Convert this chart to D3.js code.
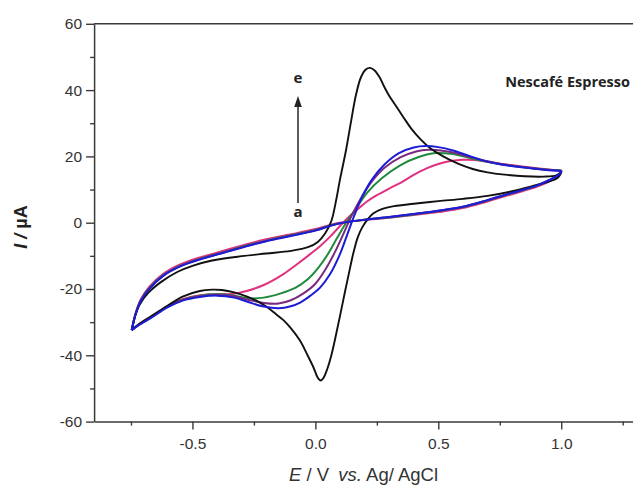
<!DOCTYPE html>
<html>
<head>
<meta charset="utf-8">
<script src="https://cdn.jsdelivr.net/npm/d3@7"></script>
<style>
  html, body { margin: 0; padding: 0; background: #fff; }
  svg { display: block; }
</style>
</head>
<body>
<svg id="chart" width="633" height="486"></svg>
<script>
// ---------------- DATA ----------------
const seriesLabels = ["a", "b", "c", "d", "e"];
const seriesColors = ["#e0307f", "#1f8a3b", "#7a2a7e", "#1c1cd6", "#111111"];
const xTickValues = [-0.5, 0.0, 0.5, 1.0];
const xMinorTicks = [-0.75, -0.25, 0.25, 0.75, 1.25];
const yTickValues = [-60, -40, -20, 0, 20, 40, 60];
const yMinorTicks = [-50, -30, -10, 10, 30, 50];
const annotation = "Nescafé Espresso";

// [E (V), I (µA)] — forward scan (ascending E)
const aForward = [[-0.747,-32.4],[-0.72,-30.7],[-0.67,-28.3],[-0.6,-25.1],[-0.54,-23.1],[-0.47,-21.9],[-0.4,-21.5],[-0.34,-21.5],[-0.28,-20.6],[-0.21,-18.8],[-0.13,-15.5],[-0.076,-12.6],[-0.02,-9.4],[0.02,-7.0],[0.06,-4.2],[0.1,-1.0],[0.14,2.0],[0.18,4.6],[0.21,6.4],[0.25,8.3],[0.3,10.3],[0.35,12.2],[0.4,14.4],[0.45,16.3],[0.5,17.7],[0.55,18.6],[0.6,19.0],[0.65,18.9],[0.7,18.4],[0.77,17.6],[0.85,16.9],[0.92,16.3],[0.97,15.9],[1.0,15.7]];
const bForward = [[-0.747,-32.4],[-0.72,-30.8],[-0.67,-28.4],[-0.6,-25.2],[-0.54,-23.2],[-0.47,-22.0],[-0.4,-21.6],[-0.33,-22.0],[-0.27,-22.8],[-0.21,-22.6],[-0.144,-21.4],[-0.08,-19.6],[-0.03,-17.0],[0.01,-13.8],[0.05,-9.6],[0.087,-4.8],[0.125,0.0],[0.17,4.8],[0.21,9.0],[0.27,13.4],[0.345,17.3],[0.42,19.8],[0.49,21.0],[0.55,20.8],[0.61,19.9],[0.67,18.8],[0.75,17.7],[0.83,16.9],[0.9,16.3],[0.96,15.9],[1.0,15.6]];
const cForward = [[-0.747,-32.4],[-0.72,-30.9],[-0.67,-28.6],[-0.6,-25.3],[-0.54,-23.3],[-0.47,-22.2],[-0.4,-21.8],[-0.33,-22.2],[-0.27,-23.3],[-0.21,-24.2],[-0.15,-24.4],[-0.1,-23.4],[-0.05,-21.4],[0.0,-18.4],[0.04,-14.2],[0.08,-8.8],[0.115,-3.2],[0.15,2.5],[0.19,8.0],[0.23,12.5],[0.28,16.5],[0.345,19.7],[0.41,21.5],[0.46,22.0],[0.51,21.8],[0.57,21.0],[0.63,19.8],[0.69,18.7],[0.76,17.6],[0.84,16.8],[0.91,16.2],[0.96,15.8],[1.0,15.5]];
const dForward = [[-0.747,-32.4],[-0.72,-31.0],[-0.67,-28.8],[-0.6,-25.5],[-0.54,-23.5],[-0.47,-22.4],[-0.4,-22.0],[-0.33,-22.6],[-0.27,-24.0],[-0.21,-25.3],[-0.15,-25.8],[-0.1,-25.2],[-0.06,-24.0],[-0.02,-22.0],[0.02,-19.5],[0.06,-15.5],[0.1,-9.5],[0.13,-3.5],[0.16,2.5],[0.19,7.8],[0.23,13.0],[0.28,17.5],[0.34,21.0],[0.4,22.7],[0.45,23.1],[0.5,22.8],[0.56,21.8],[0.62,20.3],[0.68,18.8],[0.75,17.6],[0.83,16.8],[0.9,16.2],[0.96,15.8],[1.0,15.4]];
const eForward = [[-0.747,-32.4],[-0.735,-28.6],[-0.715,-24.8],[-0.68,-21.2],[-0.63,-18.0],[-0.56,-14.8],[-0.5,-13.0],[-0.42,-11.4],[-0.3,-10.1],[-0.2,-9.3],[-0.1,-8.5],[-0.03,-7.4],[0.01,-5.8],[0.04,-3.2],[0.065,0.5],[0.085,7],[0.1,13],[0.125,22],[0.145,30.5],[0.165,38.5],[0.185,43.8],[0.205,46.2],[0.222,46.7],[0.24,46.0],[0.26,44.0],[0.28,41.0],[0.3,38.3],[0.33,35.0],[0.36,31.6],[0.39,28.4],[0.43,25.0],[0.47,22.3],[0.52,20.0],[0.58,17.8],[0.64,16.2],[0.7,15.2],[0.77,14.5],[0.85,14.0],[0.93,13.9],[0.98,14.3],[1.0,15.2]];

// reverse scan (descending E)
const aReverse = [[1.0,15.7],[0.985,14.0],[0.95,12.4],[0.9,10.8],[0.8,8.6],[0.7,6.4],[0.6,4.4],[0.5,3.2],[0.4,2.3],[0.3,1.5],[0.2,0.8],[0.12,0.2],[0.067,-0.5],[0.0,-1.9],[-0.1,-3.5],[-0.2,-5.0],[-0.28,-6.5],[-0.37,-8.4],[-0.47,-10.5],[-0.55,-12.6],[-0.62,-15.5],[-0.675,-19.3],[-0.71,-23.1],[-0.73,-27.0],[-0.747,-32.4]];
const bReverse = [[1.0,15.6],[0.985,14.2],[0.95,12.7],[0.9,11.1],[0.8,8.9],[0.7,6.7],[0.6,4.7],[0.5,3.5],[0.4,2.5],[0.3,1.6],[0.2,0.9],[0.12,0.1],[0.067,-0.7],[0.0,-2.2],[-0.1,-3.8],[-0.2,-5.4],[-0.28,-6.9],[-0.37,-8.8],[-0.47,-10.9],[-0.55,-13.0],[-0.62,-15.9],[-0.675,-19.7],[-0.71,-23.4],[-0.73,-27.2],[-0.747,-32.4]];
const cReverse = [[1.0,15.5],[0.985,14.2],[0.95,12.8],[0.9,11.2],[0.8,9.0],[0.7,6.8],[0.6,4.8],[0.5,3.6],[0.4,2.6],[0.3,1.7],[0.2,0.9],[0.12,0.1],[0.067,-0.8],[0.0,-2.3],[-0.1,-3.9],[-0.2,-5.5],[-0.28,-7.0],[-0.37,-8.9],[-0.47,-11.0],[-0.55,-13.1],[-0.62,-16.0],[-0.675,-19.8],[-0.71,-23.5],[-0.73,-27.3],[-0.747,-32.4]];
const dReverse = [[1.0,15.4],[0.985,14.2],[0.95,12.8],[0.9,11.2],[0.8,9.0],[0.7,6.8],[0.6,4.8],[0.5,3.6],[0.4,2.6],[0.3,1.7],[0.2,0.9],[0.12,0.1],[0.067,-0.8],[0.0,-2.4],[-0.1,-4.0],[-0.2,-5.6],[-0.28,-7.1],[-0.37,-9.0],[-0.47,-11.1],[-0.55,-13.2],[-0.62,-16.1],[-0.675,-19.9],[-0.71,-23.6],[-0.73,-27.3],[-0.747,-32.4]];
const eReverse = [[1.0,15.2],[0.985,13.5],[0.95,12.4],[0.9,11.4],[0.8,9.5],[0.7,8.1],[0.6,7.2],[0.5,6.5],[0.4,5.7],[0.32,5.0],[0.27,4.1],[0.235,2.8],[0.21,0.8],[0.19,-1.5],[0.172,-4.5],[0.155,-9],[0.14,-14],[0.12,-21],[0.1,-28.2],[0.082,-34.5],[0.065,-40],[0.048,-44.2],[0.033,-46.8],[0.022,-47.6],[0.01,-46.8],[-0.008,-43.6],[-0.035,-39.5],[-0.062,-35.6],[-0.1,-31.8],[-0.13,-29.4],[-0.16,-27.6],[-0.2,-25.3],[-0.24,-23.5],[-0.28,-22.2],[-0.33,-21.0],[-0.38,-20.3],[-0.42,-20.2],[-0.47,-20.6],[-0.54,-22.3],[-0.6,-25.0],[-0.67,-28.4],[-0.72,-30.8],[-0.747,-32.4]];

const forwards = [aForward, bForward, cForward, dForward, eForward];
const reverses = [aReverse, bReverse, cReverse, dReverse, eReverse];

// ---------------- CHART ----------------
const svg = d3.select("#chart");
const W = 633, H = 486;
const x = d3.scaleLinear().domain([-0.9, 1.3]).range([94.1, 635]);
const y = d3.scaleLinear().domain([-60, 60]).range([421.6, 23.8]);
const axisColor = "#3a3a3a";
const tickFont = "'Liberation Sans', Arial, sans-serif";

// curves
const line = d3.line().x(d => x(d[0])).y(d => y(d[1])).curve(d3.curveCatmullRom.alpha(0.5));
const gCurves = svg.append("g");
const drawOrder = [0, 1, 2, 4, 3];
drawOrder.forEach(i => {
  const loop = forwards[i].concat(reverses[i].slice(1));
  gCurves.append("path")
    .datum(loop)
    .attr("d", line)
    .attr("fill", "none")
    .attr("stroke", seriesColors[i])
    .attr("stroke-width", i === 4 ? 1.9 : 2.0)
    .attr("stroke-linejoin", "round");
});

// axes
function styleAxis(g) {
  g.select(".domain").attr("stroke", axisColor).attr("stroke-width", 1.5);
  g.selectAll(".tick line").attr("stroke", axisColor).attr("stroke-width", 1.4);
  g.selectAll(".tick text").attr("fill", "#333").attr("font-family", tickFont).attr("font-size", 15.5);
}
const xAxis = svg.append("g").attr("transform", `translate(0,${y(-60)})`)
  .call(d3.axisBottom(x).tickValues(xTickValues).tickSize(8).tickPadding(8).tickFormat(d => d.toFixed(1)).tickSizeOuter(0));
styleAxis(xAxis);
const xMinor = svg.append("g").attr("transform", `translate(0,${y(-60)})`)
  .call(d3.axisBottom(x).tickValues(xMinorTicks).tickSize(4).tickFormat("").tickSizeOuter(0));
styleAxis(xMinor);
xMinor.select(".domain").remove();

const yAxis = svg.append("g").attr("transform", `translate(${x(-0.9)},0)`)
  .call(d3.axisLeft(y).tickValues(yTickValues).tickSize(8).tickPadding(4).tickFormat(d => String(d)).tickSizeOuter(0));
styleAxis(yAxis);
const yMinor = svg.append("g").attr("transform", `translate(${x(-0.9)},0)`)
  .call(d3.axisLeft(y).tickValues(yMinorTicks).tickSize(4).tickFormat("").tickSizeOuter(0));
styleAxis(yMinor);
yMinor.select(".domain").remove();

// top frame line
svg.append("line")
  .attr("x1", x(-0.9)).attr("x2", W).attr("y1", y(60)).attr("y2", y(60))
  .attr("stroke", axisColor).attr("stroke-width", 1.5);

// axis titles
const xTitle = svg.append("text")
  .attr("x", (x(-0.9) + W) / 2).attr("y", 481)
  .attr("text-anchor", "middle")
  .attr("font-family", tickFont).attr("font-size", 18.5).attr("fill", "#333");
xTitle.append("tspan").attr("font-style", "italic").text("E");
xTitle.append("tspan").text(" / V ");
xTitle.append("tspan").attr("dx", 4).attr("font-style", "italic").text("vs.");
xTitle.append("tspan").text(" Ag/ AgCl");

const yTitle = svg.append("text")
  .attr("transform", "translate(27,227) rotate(-90)")
  .attr("text-anchor", "middle")
  .attr("font-family", tickFont).attr("font-size", 18).attr("font-weight", "bold").attr("fill", "#222");
yTitle.append("tspan").attr("font-style", "italic").text("I / ");
yTitle.append("tspan").text("\u00B5A");

// annotation
svg.append("text")
  .attr("x", 630).attr("y", 87)
  .attr("text-anchor", "end")
  .attr("font-family", "'Open Sans', sans-serif").attr("font-weight", "bold").attr("font-size", 14.5)
  .attr("fill", "#222")
  .text(annotation);

// arrow a -> e
const arrowX = 298;
svg.append("line")
  .attr("x1", arrowX).attr("x2", arrowX).attr("y1", 203).attr("y2", 104)
  .attr("stroke", "#333").attr("stroke-width", 1.6);
svg.append("path")
  .attr("d", `M${arrowX},96 L${arrowX - 3.8},107 L${arrowX + 3.8},107 Z`)
  .attr("fill", "#222");
svg.append("text").attr("x", arrowX).attr("y", 83).attr("text-anchor", "middle")
  .attr("font-family", "'Open Sans', sans-serif").attr("font-weight", "bold").attr("font-size", 15).attr("fill", "#222")
  .text(seriesLabels[4]);
svg.append("text").attr("x", arrowX).attr("y", 217).attr("text-anchor", "middle")
  .attr("font-family", "'Open Sans', sans-serif").attr("font-weight", "bold").attr("font-size", 15).attr("fill", "#222")
  .text(seriesLabels[0]);
</script>
</body>
</html>
